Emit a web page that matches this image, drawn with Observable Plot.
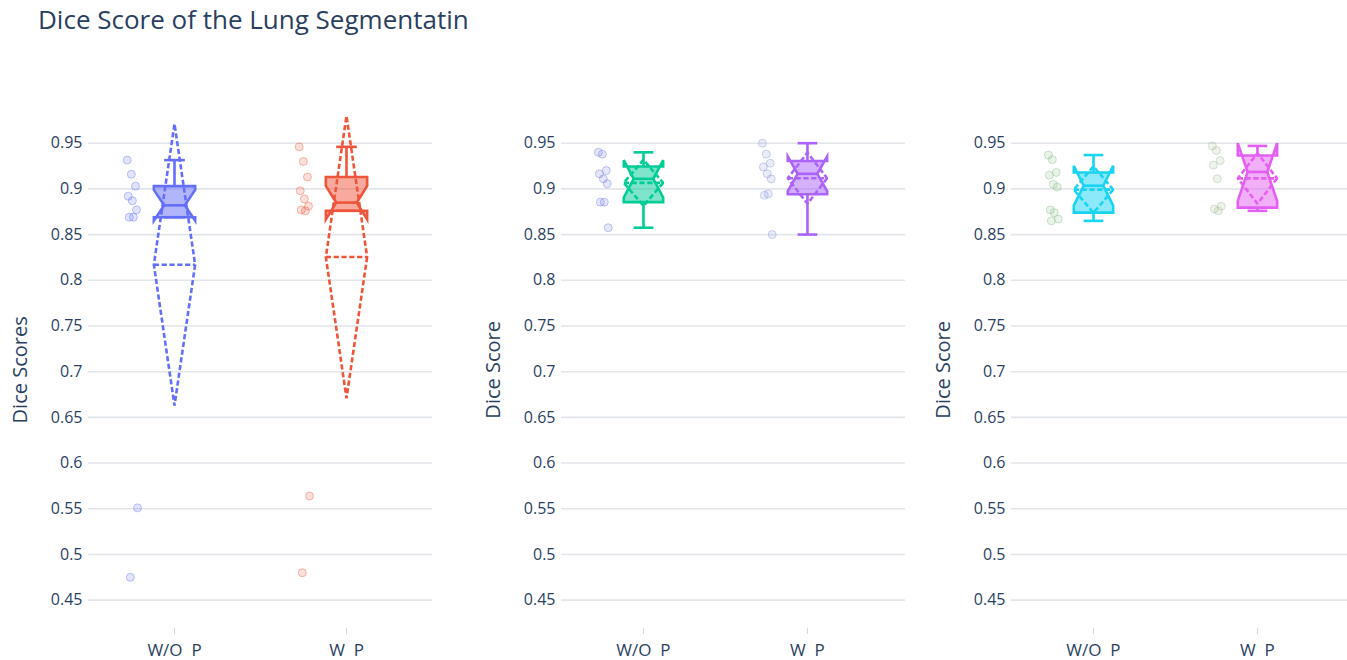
<!DOCTYPE html>
<html>
<head>
<meta charset="utf-8">
<script src="https://cdn.jsdelivr.net/npm/d3@7"></script>
<script src="https://cdn.jsdelivr.net/npm/@observablehq/plot@0.6"></script>
<style>
  body { margin: 0; background: #fff; font-family: "Open Sans", sans-serif; }
  #root { position: relative; width: 1347px; height: 660px; overflow: hidden; background: #fff; }
  #title { position: absolute; left: 38px; top: 1px; font-size: 26px; color: #2a3f5f; white-space: nowrap; }
  .panel { position: absolute; top: 90px; }
</style>
</head>
<body>
<div id="root"><div id="title"></div></div>
<script>
// ---------- data ----------
const chartTitle = "Dice Score of the Lung Segmentatin";
const categories = ["W/O\u00a0\u00a0P", "W\u00a0\u00a0P"];
const yTicks = [0.45, 0.5, 0.55, 0.6, 0.65, 0.7, 0.75, 0.8, 0.85, 0.9, 0.95];
const yTickLabels = ["0.45", "0.5", "0.55", "0.6", "0.65", "0.7", "0.75", "0.8", "0.85", "0.9", "0.95"];
const axisTitles = ["Dice Scores", "Dice Score", "Dice Score"];

// panel 1
const panel1WithoutP = [0.9315, 0.916, 0.903, 0.892, 0.887, 0.877, 0.869, 0.869, 0.551, 0.475];
const panel1WithP    = [0.946, 0.930, 0.913, 0.898, 0.889, 0.881, 0.877, 0.876, 0.564, 0.480];
// panel 2
const panel2WithoutP = [0.940, 0.938, 0.920, 0.9165, 0.911, 0.9056, 0.8855, 0.8855, 0.8575];
const panel2WithP    = [0.950, 0.938, 0.928, 0.924, 0.9165, 0.911, 0.893, 0.8945, 0.850];
// panel 3
const panel3WithoutP = [0.937, 0.932, 0.918, 0.915, 0.905, 0.902, 0.877, 0.874, 0.867, 0.865];
const panel3WithP    = [0.947, 0.942, 0.931, 0.926, 0.911, 0.881, 0.878, 0.876];

const boxColors   = [["#636efa", "#ef553b"], ["#00cc96", "#ab63fa"], ["#19d3f3", "#e35ff2"]];
const pointColors = [["#636efa", "#ef553b"], ["#7178e0", "#8896d6"], ["#86bd86", "#a6bc98"]];

// ---------- layout / style ----------
const textColor = "#2a3f5f";
const gridColor = "#e2e5ea";
const layout = [
  {left: 0,   width: 440, ml: 88, mr: 8, xmax: 1.5},
  {left: 470, width: 435, ml: 91, mr: 0, xmax: 1.598},
  {left: 920, width: 435, ml: 91, mr: 0, xmax: 1.598}
];
const seriesByPanel = [
  [panel1WithoutP, panel1WithP],
  [panel2WithoutP, panel2WithP],
  [panel3WithoutP, panel3WithP]
];

document.getElementById("title").textContent = chartTitle;

// plotly-like box statistics
function boxStats(vals) {
  const s = vals.slice().sort((a, b) => a - b);
  const n = s.length;
  const q = p => {
    let k = p * n - 0.5;
    if (k < 0) return s[0];
    if (k > n - 1) return s[n - 1];
    const f = k % 1;
    return f * s[Math.ceil(k)] + (1 - f) * s[Math.floor(k)];
  };
  const q1 = q(0.25), med = q(0.5), q3 = q(0.75), iqr = q3 - q1;
  const lo = Math.min(q1, d3.min(s.filter(v => v >= q1 - 1.5 * iqr)));
  const hi = Math.max(q3, d3.max(s.filter(v => v <= q3 + 1.5 * iqr)));
  const mean = d3.mean(s);
  const sd = Math.sqrt(d3.mean(s, v => (v - mean) ** 2));
  const notch = 1.57 * iqr / Math.sqrt(n);
  return {q1, med, q3, lo, hi, mean, sd, nlo: med - notch, nhi: med + notch};
}

const HW = 0.12;     // half box width (x units)
const NW = 0.06;     // notch inset
const WW = 0.06;     // whisker cap half width
const PP = -0.245;   // point offset
const LW = 2.6;
const DASH = "5.2,2.6";

const root = document.getElementById("root");

layout.forEach((L, pi) => {
  const marks = [
    Plot.gridY(yTicks, {stroke: gridColor, strokeOpacity: 1, strokeWidth: 1.6}),
    Plot.axisY(yTicks, {tickSize: 0, tickPadding: 6, tickFormat: d => yTickLabels[yTicks.indexOf(d)],
      label: null, fontSize: 16, fill: textColor}),
    Plot.axisY([], {tickSize: 0, label: axisTitles[pi], labelAnchor: "center", labelOffset: 76,
      labelArrow: "none", fontSize: 20, fill: textColor}),
    Plot.axisX([0, 1], {tickSize: 6, tickPadding: 9, tickFormat: d => categories[d], label: null,
      fontSize: 17, fill: textColor, stroke: "#d3d7dd"})
  ];

  seriesByPanel[pi].forEach((vals, gi) => {
    const c = gi;
    const col = boxColors[pi][gi];
    const st = boxStats(vals);
    const box = [
      [c - HW, st.q1], [c - HW, st.nlo], [c - HW + NW, st.med], [c - HW, st.nhi], [c - HW, st.q3],
      [c + HW, st.q3], [c + HW, st.nhi], [c + HW - NW, st.med], [c + HW, st.nlo], [c + HW, st.q1]
    ];
    marks.push(Plot.line(box, {x: d => d[0], y: d => d[1], curve: "linear-closed",
      stroke: col, strokeWidth: LW, fill: col, fillOpacity: 0.5,
      strokeLinejoin: "miter", strokeMiterlimit: 4, strokeLinecap: "butt"}));
    marks.push(Plot.line([[c - HW + NW, st.med], [c + HW - NW, st.med]], {x: d => d[0], y: d => d[1],
      stroke: col, strokeWidth: LW, strokeLinecap: "butt"}));
    const whisk = [
      {x1: c, y1: st.q3, x2: c, y2: st.hi},
      {x1: c, y1: st.q1, x2: c, y2: st.lo},
      {x1: c - WW, y1: st.hi, x2: c + WW, y2: st.hi},
      {x1: c - WW, y1: st.lo, x2: c + WW, y2: st.lo}
    ];
    marks.push(Plot.link(whisk, {x1: "x1", y1: "y1", x2: "x2", y2: "y2", stroke: col,
      strokeWidth: LW, strokeLinecap: "butt"}));
    // mean and standard deviation
    marks.push(Plot.line([[c - HW, st.mean], [c + HW, st.mean]], {x: d => d[0], y: d => d[1],
      stroke: col, strokeWidth: LW, strokeDasharray: DASH, strokeLinecap: "butt"}));
    const diamond = [[c + HW, st.mean], [c, st.mean - st.sd], [c - HW, st.mean], [c, st.mean + st.sd]];
    marks.push(Plot.line(diamond, {x: d => d[0], y: d => d[1], curve: "linear-closed",
      stroke: col, strokeWidth: LW, strokeDasharray: DASH, strokeLinejoin: "miter", strokeLinecap: "butt"}));
    // points (deterministic jitter)
    const pts = vals.map((v, i) => ({x: c + PP + (((i * 37) % 11) / 10 - 0.5) * 0.06, y: v}));
    const pc = pointColors[pi][gi];
    marks.push(Plot.dot(pts, {x: "x", y: "y", r: 4, fill: pc, fillOpacity: 0.18,
      stroke: pc, strokeOpacity: 0.4, strokeWidth: 1}));
  });

  const svg = Plot.plot({
    width: L.width,
    height: 570,
    marginLeft: L.ml,
    marginRight: L.mr,
    marginTop: 20.7,
    marginBottom: 32,
    style: {fontFamily: "'Open Sans', sans-serif", color: textColor, background: "transparent", overflow: "visible"},
    x: {domain: [-0.5, L.xmax]},
    y: {domain: [0.419, 0.985]},
    marks
  });
  svg.style.maxWidth = "none";
  const wrap = document.createElement("div");
  wrap.className = "panel";
  wrap.style.left = L.left + "px";
  wrap.appendChild(svg);
  root.appendChild(wrap);
});
</script>
</body>
</html>
